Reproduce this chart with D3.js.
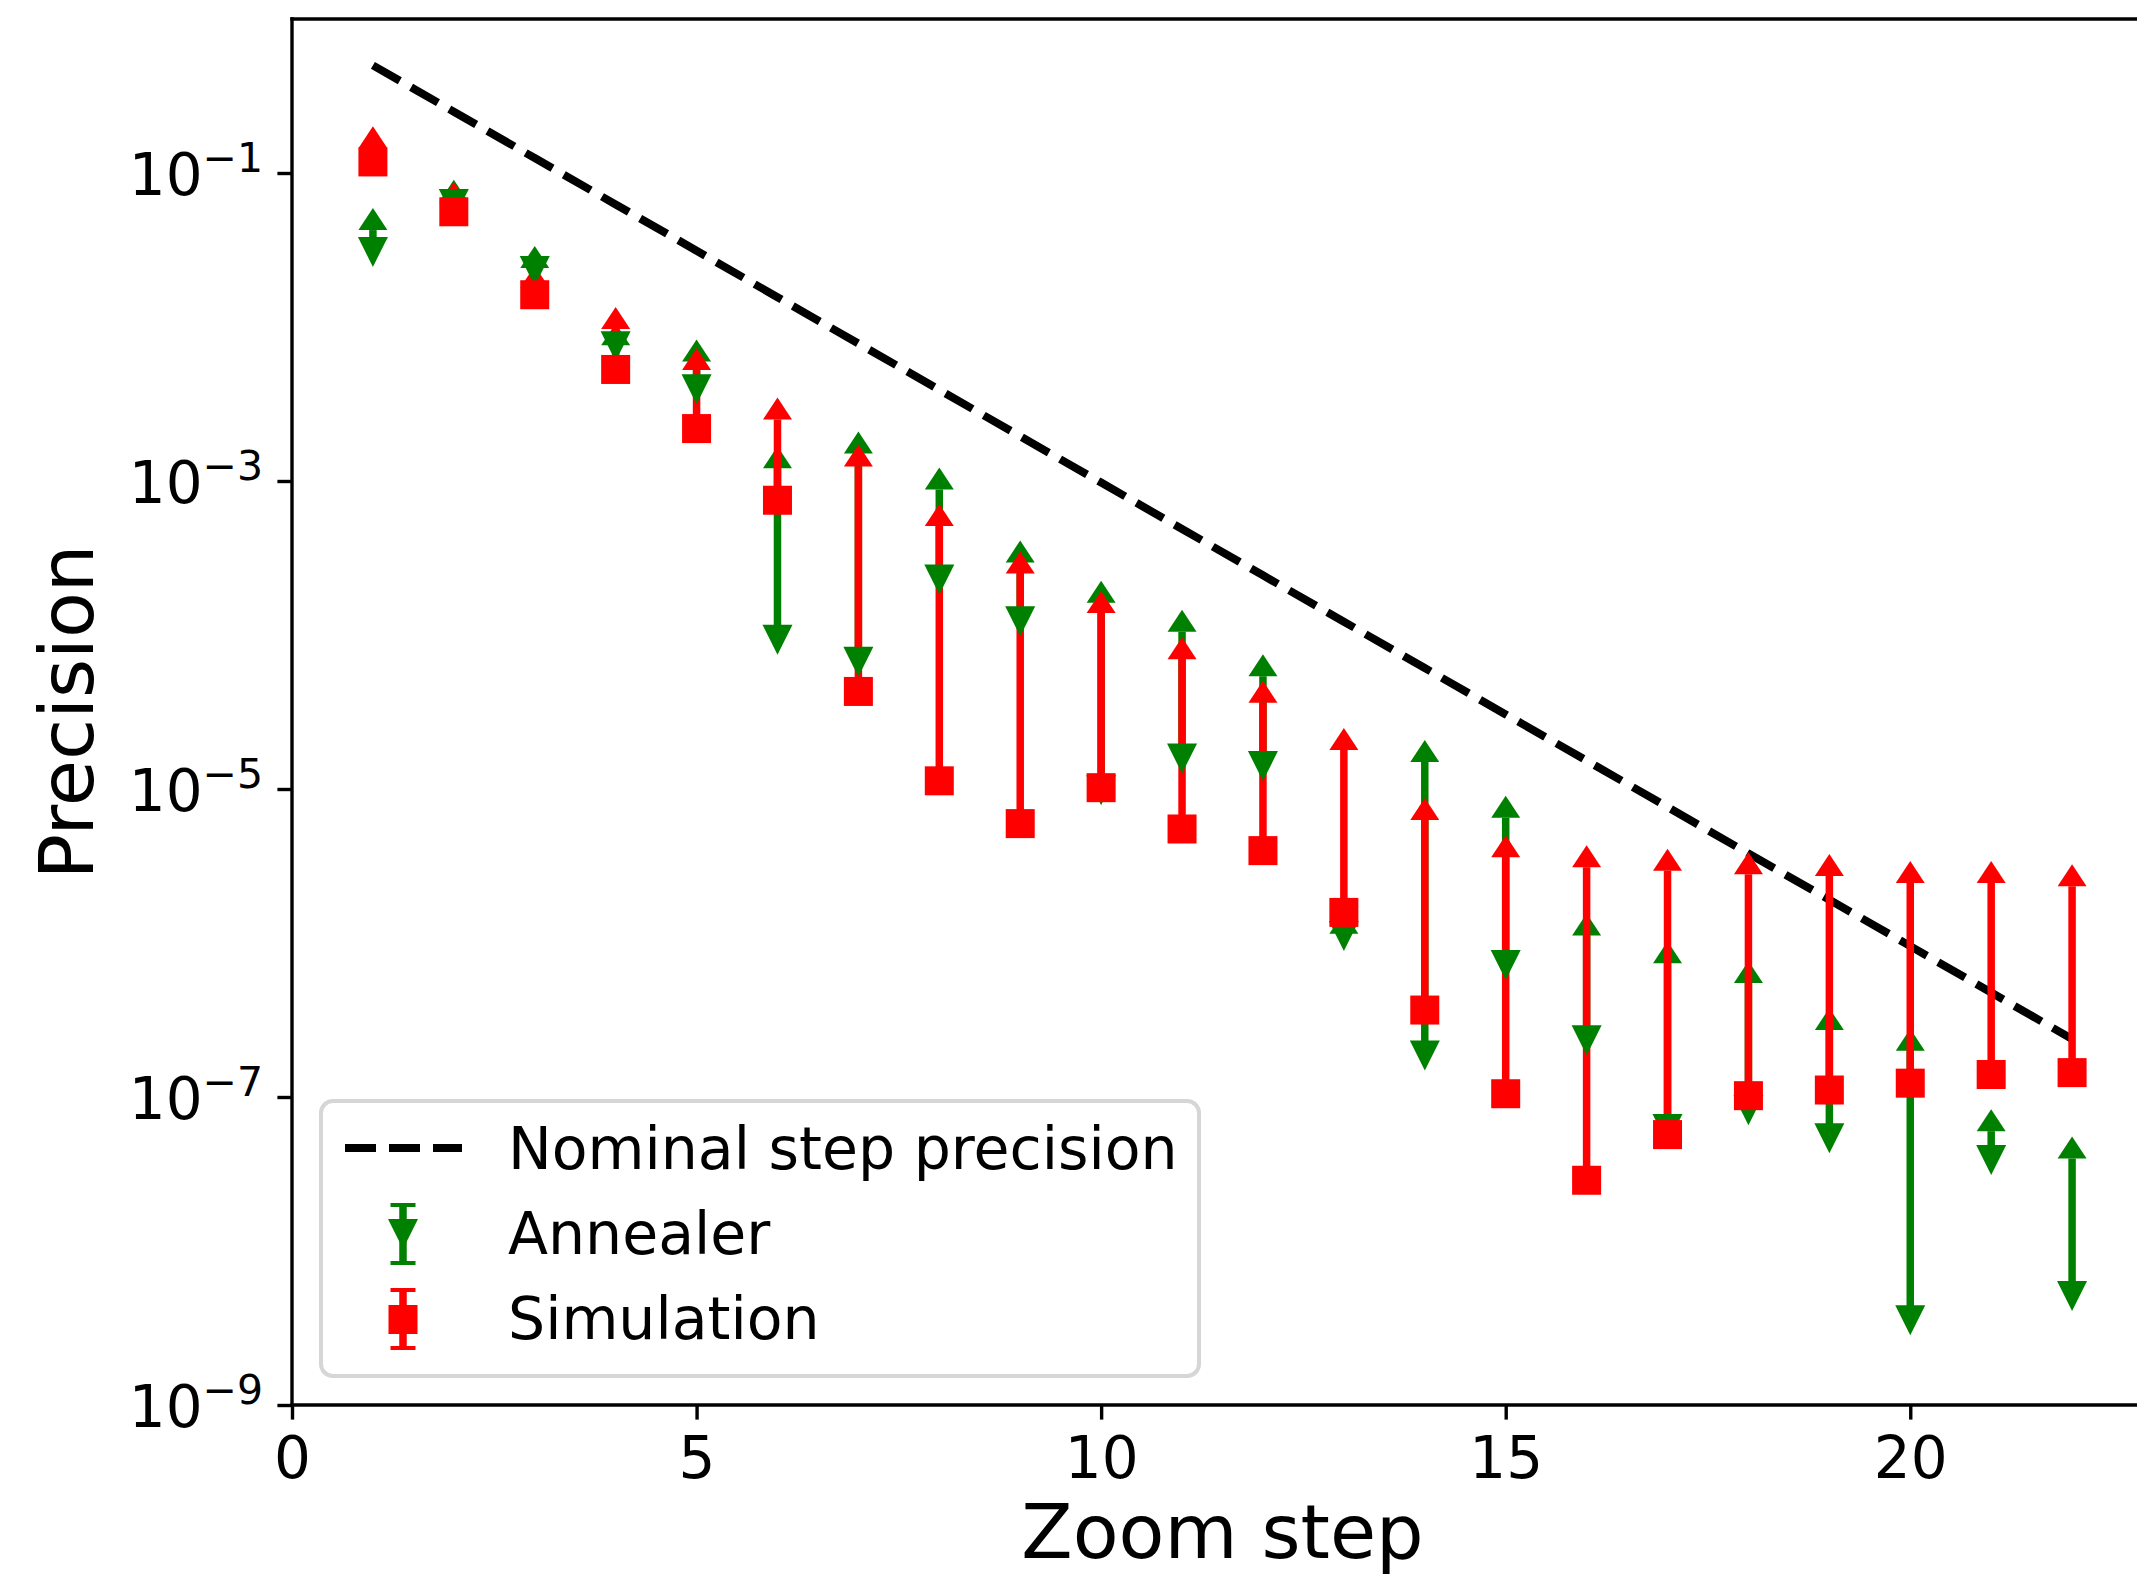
<!DOCTYPE html>
<html><head><meta charset="utf-8">
<script src="https://cdn.jsdelivr.net/npm/d3@7"></script>
<style>body{margin:0;background:#fff} svg{display:block}</style>
</head><body><svg id="chart" width="2137" height="1579"></svg>
<script>
// ---------- data ----------
const steps = [1,2,3,4,5,6,7,8,9,10,11,12,13,14,15,16,17,18,19,20,21,22];
const nominal = [5.0e-1,2.5e-1,1.25e-1,6.25e-2,3.13e-2,1.56e-2,7.81e-3,3.91e-3,1.95e-3,9.77e-4,4.88e-4,
                 2.44e-4,1.22e-4,6.10e-5,3.05e-5,1.53e-5,7.63e-6,3.81e-6,1.91e-6,9.54e-7,4.77e-7,2.38e-7];
const annealerValue = [3.07e-2,6.3e-2,2.31e-2,7.5e-3,3.94e-3,9.3e-5,6.7e-5,2.29e-4,1.23e-4,9.8e-6,1.58e-5,
                       1.41e-5,1.11e-6,1.86e-7,7.2e-7,2.34e-7,6.2e-8,8.2e-8,5.4e-8,3.55e-9,3.9e-8,5.1e-9];
const annealerUpper = [4.26e-2,6.5e-2,2.42e-2,7.6e-3,5.96e-3,1.21e-3,1.51e-3,8.8e-4,2.96e-4,1.62e-4,1.05e-4,
                       5.4e-5,1.15e-6,1.5e-5,6.5e-6,1.12e-6,7.4e-7,5.5e-7,2.72e-7,2.0e-7,6.0e-8,3.98e-8];
const simulationValue = [1.18e-1,5.6e-2,1.62e-2,5.3e-3,2.19e-3,7.5e-4,4.3e-5,1.13e-5,5.96e-6,1.02e-5,5.5e-6,
                         3.98e-6,1.58e-6,3.67e-7,1.05e-7,2.88e-8,5.7e-8,1.02e-7,1.11e-7,1.23e-7,1.4e-7,1.44e-7];
const simulationUpper = [1.45e-1,6.3e-2,1.8e-2,9.7e-3,5.25e-3,2.51e-3,1.24e-3,5.1e-4,2.51e-4,1.39e-4,6.97e-5,
                         3.63e-5,1.79e-5,6.3e-6,3.6e-6,3.1e-6,2.95e-6,2.8e-6,2.72e-6,2.45e-6,2.45e-6,2.34e-6];
const xTicks = [0,5,10,15,20];
const yTicks = [1e-1,1e-3,1e-5,1e-7,1e-9];
const yTickExponents = ["\u22121","\u22123","\u22125","\u22127","\u22129"];
const legendLabels = ["Nominal step precision","Annealer","Simulation"];
const xLabel = "Zoom step";
const yLabel = "Precision";

// ---------- layout ----------
const FONT = "DejaVu Sans";
const GREEN = "#008000", RED = "#ff0000";
const svg = d3.select("#chart");
svg.append("rect").attr("width",2137).attr("height",1579).attr("fill","#fff");

const x = d3.scaleLinear().domain([0,23]).range([292,2153]);
const y = d3.scaleLog().domain([1e-9,1]).range([1405,19]);
const spineW = 3.4, tickLen = 14.6;

// x axis
const gx = svg.append("g").attr("transform","translate(0,1405)")
  .call(d3.axisBottom(x).tickValues(xTicks).tickSize(tickLen).tickSizeOuter(0).tickFormat(d3.format("d")));
gx.select(".domain").remove();
gx.selectAll(".tick line").attr("stroke","#000").attr("stroke-width",spineW);
gx.selectAll(".tick text").attr("font-family",FONT).attr("font-size",58).attr("fill","#000")
  .attr("y",73).attr("dy",0);

// y axis
const gy = svg.append("g").attr("transform","translate(292,0)")
  .call(d3.axisLeft(y).tickValues(yTicks).tickSize(tickLen).tickSizeOuter(0).tickFormat(()=>""));
gy.select(".domain").remove();
gy.selectAll(".tick line").attr("stroke","#000").attr("stroke-width",spineW);
gy.selectAll(".tick text").each(function(d,i){
  const t = d3.select(this);
  t.attr("font-family",FONT).attr("fill","#000").attr("x",-29).attr("dy",0).attr("y",21)
   .attr("text-anchor","end");
  t.text(null);
  t.append("tspan").attr("font-size",58).text("10");
  t.append("tspan").attr("font-size",41).attr("dy",-23).text(yTickExponents[yTicks.indexOf(d)]);
});

// dashed nominal line
const lineGen = d3.line().x((d,i)=>x(steps[i])).y(d=>y(d));
svg.append("path").datum(nominal).attr("d",lineGen).attr("fill","none")
  .attr("stroke","#000").attr("stroke-width",8).attr("stroke-dasharray","31,13");

// error bars and carets (annealer first, then simulation), markers afterwards
function drawBars(values, uppers, color){
  const g = svg.append("g");
  g.selectAll("line").data(steps).join("line")
    .attr("x1",(d)=>x(d)).attr("x2",(d)=>x(d))
    .attr("y1",(d,i)=>y(values[i])).attr("y2",(d,i)=>y(uppers[i]))
    .attr("stroke",color).attr("stroke-width",7.5);
  g.selectAll("path").data(steps).join("path")
    .attr("d",(d,i)=>{const cx=x(d), cy=y(uppers[i]);
      return `M${cx-14.5},${cy}L${cx},${cy-22}L${cx+14.5},${cy}Z`;})
    .attr("fill",color);
}
drawBars(annealerValue, annealerUpper, GREEN);
drawBars(simulationValue, simulationUpper, RED);

svg.append("g").selectAll("path").data(steps).join("path")
  .attr("d",(d,i)=>{const cx=x(d), cy=y(annealerValue[i]);
    return `M${cx-15},${cy-15}L${cx+15},${cy-15}L${cx},${cy+15}Z`;})
  .attr("fill",GREEN);
svg.append("g").selectAll("rect").data(steps).join("rect")
  .attr("x",d=>x(d)-14.5).attr("y",(d,i)=>y(simulationValue[i])-14.5)
  .attr("width",29).attr("height",29).attr("fill",RED);

// spines
const sp = svg.append("g").attr("stroke","#000").attr("stroke-width",spineW).attr("stroke-linecap","square");
sp.append("line").attr("x1",292).attr("x2",292).attr("y1",19).attr("y2",1405);
sp.append("line").attr("x1",292).attr("x2",2153).attr("y1",1405).attr("y2",1405);
sp.append("line").attr("x1",292).attr("x2",2153).attr("y1",19).attr("y2",19);
sp.append("line").attr("x1",2153).attr("x2",2153).attr("y1",19).attr("y2",1405);

// axis labels
svg.append("text").attr("x",(292+2153)/2).attr("y",1558).attr("text-anchor","middle")
  .attr("font-family",FONT).attr("font-size",75).text(xLabel);
svg.append("text").attr("transform","translate(93,712) rotate(-90)").attr("text-anchor","middle")
  .attr("font-family",FONT).attr("font-size",75).text(yLabel);

// legend
const lg = svg.append("g");
lg.append("rect").attr("x",321).attr("y",1101).attr("width",878).attr("height",275).attr("rx",12)
  .attr("fill","#fff").attr("stroke","#d6d6d6").attr("stroke-width",4);
lg.append("line").attr("x1",345).attr("x2",462).attr("y1",1148).attr("y2",1148)
  .attr("stroke","#000").attr("stroke-width",8).attr("stroke-dasharray","31,13");
// annealer handle
const hx = 403;
lg.append("line").attr("x1",hx).attr("x2",hx).attr("y1",1205).attr("y2",1263).attr("stroke",GREEN).attr("stroke-width",7.5);
[1205,1263].forEach(cy=>lg.append("line").attr("x1",hx-12.5).attr("x2",hx+12.5).attr("y1",cy).attr("y2",cy)
  .attr("stroke",GREEN).attr("stroke-width",4));
lg.append("path").attr("d",`M${hx-15},1219L${hx+15},1219L${hx},1249Z`).attr("fill",GREEN);
// simulation handle
lg.append("line").attr("x1",hx).attr("x2",hx).attr("y1",1290).attr("y2",1348).attr("stroke",RED).attr("stroke-width",7.5);
[1290,1348].forEach(cy=>lg.append("line").attr("x1",hx-12.5).attr("x2",hx+12.5).attr("y1",cy).attr("y2",cy)
  .attr("stroke",RED).attr("stroke-width",4));
lg.append("rect").attr("x",hx-14.5).attr("y",1305).attr("width",29).attr("height",29).attr("fill",RED);
const ly = [1169,1254,1339];
legendLabels.forEach((t,i)=>lg.append("text").attr("x",508).attr("y",ly[i])
  .attr("font-family",FONT).attr("font-size",58.5).attr("fill","#000").text(t));
</script></body></html>
